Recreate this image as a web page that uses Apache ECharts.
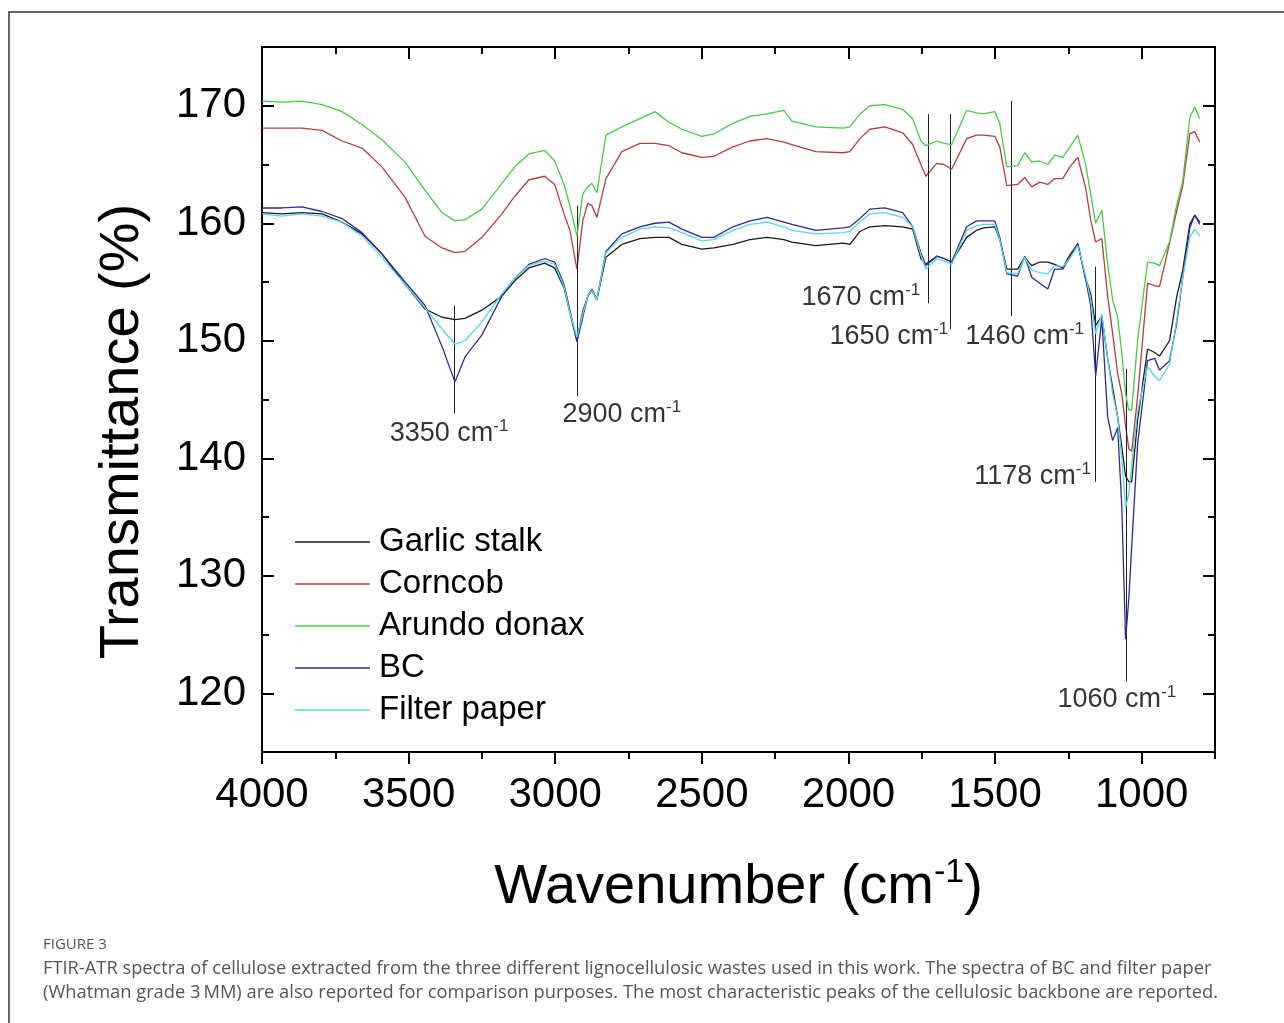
<!DOCTYPE html>
<html>
<head>
<meta charset="utf-8">
<script src="https://cdn.jsdelivr.net/npm/echarts@6/dist/echarts.min.js"></script>
<style>
  html, body { margin: 0; padding: 0; background: #fff; }
  #chart { width: 1284px; height: 1023px; }
</style>
</head>
<body>
<div id="chart"></div>
<script>
// wavenumber grid (cm-1), shared by all five spectra
const wavenumber = [
  4000, 3932, 3864, 3795, 3727, 3659, 3591, 3512, 3444, 3386,
  3342, 3308, 3250, 3182, 3138, 3090, 3036, 3002, 2970, 2950,
  2926, 2906, 2889, 2875, 2858, 2827, 2773, 2711, 2660, 2612,
  2568, 2500, 2459, 2394, 2336, 2278, 2220, 2193, 2111, 2019,
  1995, 1961, 1927, 1876, 1815, 1781, 1753, 1736, 1699, 1675,
  1648, 1597, 1563, 1539, 1501, 1484, 1460, 1423, 1399, 1375,
  1348, 1320, 1297, 1269, 1245, 1218, 1191, 1174, 1157, 1136,
  1116, 1099, 1082, 1068, 1055, 1044, 1034, 1014, 980, 956,
  939, 905, 881, 860, 836, 819, 802
];

const garlicStalk = [
  160.9, 160.8, 160.9, 160.8, 160.1, 159.1, 157.4, 154.8, 152.7, 152.0,
  151.8, 151.9, 152.6, 153.8, 155.1, 156.2, 156.6, 156.2, 154.5, 152.4,
  150.0, 152.5, 153.8, 154.3, 153.5, 157.1, 158.2, 158.7, 158.8, 158.8,
  158.2, 157.8, 157.9, 158.2, 158.6, 158.8, 158.6, 158.4, 158.1, 158.3,
  158.2, 159.3, 159.7, 159.8, 159.7, 159.5, 157.0, 156.5, 157.2, 157.0,
  156.7, 158.8, 159.4, 159.6, 159.7, 158.6, 156.1, 156.1, 157.1, 156.4,
  156.7, 156.7, 156.5, 156.2, 157.3, 158.2, 155.3, 154.0, 151.3, 152.1,
  148.5, 146.0, 143.5, 141.0, 138.5, 138.0, 138.0, 143.2, 149.3, 149.0,
  148.7, 150.0, 153.7, 156.0, 159.9, 160.7, 160.1
];

const corncob = [
  168.1, 168.1, 168.1, 167.9, 167.0, 166.4, 164.8, 162.2, 158.9, 157.9,
  157.5, 157.6, 158.8, 160.8, 162.3, 163.7, 164.0, 163.3, 160.8, 159.4,
  156.1, 160.2, 161.7, 161.5, 160.5, 163.8, 166.1, 166.8, 166.8, 166.6,
  166.0, 165.6, 165.7, 166.5, 167.0, 167.2, 166.9, 166.7, 166.1, 166.0,
  166.1, 167.2, 168.0, 168.2, 167.7, 166.7, 165.0, 164.0, 165.1, 165.0,
  164.6, 167.2, 167.5, 167.5, 167.4, 166.5, 163.2, 163.3, 163.9, 163.1,
  163.5, 163.3, 163.8, 163.8, 164.8, 165.6, 163.0, 160.3, 158.4, 158.7,
  153.8, 150.6, 147.2, 145.5, 142.8, 140.8, 140.6, 145.2, 154.9, 154.7,
  154.6, 158.3, 161.0, 163.2, 167.6, 167.8, 166.9
];

const arundoDonax = [
  170.4, 170.3, 170.4, 170.1, 169.5, 168.4, 167.1, 165.2, 162.8, 160.9,
  160.2, 160.3, 161.2, 163.4, 164.8, 165.9, 166.2, 165.3, 163.3, 161.5,
  158.9, 162.5, 163.1, 163.4, 162.6, 167.5, 168.2, 168.9, 169.5, 168.6,
  168.0, 167.4, 167.6, 168.5, 169.1, 169.3, 169.6, 168.7, 168.2, 168.1,
  168.2, 169.3, 170.0, 170.1, 169.7, 168.9, 167.0, 166.6, 167.0, 166.8,
  166.7, 169.6, 169.4, 169.3, 169.5, 168.5, 164.8, 164.9, 166.0, 165.2,
  165.3, 165.0, 165.8, 165.6, 166.5, 167.5, 165.0, 162.5, 160.0, 161.1,
  156.5, 153.5, 152.0, 149.0, 145.5, 144.1, 144.1, 150.0, 156.7, 156.6,
  156.4, 158.4, 161.5, 163.6, 169.0, 169.9, 168.9
];

const bc = [
  161.3, 161.3, 161.4, 161.0, 160.4, 159.2, 157.4, 155.0, 153.0, 149.5,
  146.5, 148.6, 150.5, 153.8, 155.3, 156.5, 157.0, 156.7, 154.8, 152.6,
  149.9, 152.0, 153.8, 154.4, 153.5, 157.6, 159.1, 159.7, 160.0, 160.1,
  159.5, 158.8, 158.8, 159.7, 160.2, 160.5, 160.1, 159.9, 159.4, 159.6,
  159.7, 160.4, 161.2, 161.3, 160.9, 159.7, 157.5, 156.4, 157.2, 157.0,
  156.7, 159.7, 160.2, 160.2, 160.2, 158.8, 155.7, 155.5, 157.2, 155.4,
  154.9, 154.4, 156.1, 156.1, 157.1, 158.3, 155.2, 153.0, 147.0, 151.9,
  143.5, 141.5, 142.6, 136.0, 124.6, 128.0, 132.5, 141.2, 148.3, 148.5,
  147.5, 148.3, 151.4, 155.4, 159.6, 160.7, 159.9
];

const filterPaper = [
  160.8, 160.6, 160.8, 160.6, 160.1, 158.9, 157.1, 154.8, 152.8, 151.0,
  149.7, 150.0, 151.6, 154.0, 155.3, 156.4, 156.8, 156.5, 154.6, 152.4,
  150.3, 152.3, 153.8, 154.3, 153.5, 157.5, 158.8, 159.5, 159.7, 159.6,
  159.2, 158.5, 158.6, 159.4, 159.9, 160.1, 159.7, 159.4, 159.1, 159.2,
  159.3, 160.1, 160.8, 160.9, 160.5, 159.7, 157.3, 156.1, 157.0, 156.8,
  156.5, 159.4, 159.8, 159.9, 159.9, 158.6, 155.8, 155.7, 157.1, 156.0,
  155.8, 155.7, 156.4, 156.3, 157.0, 158.1, 155.5, 153.5, 150.6, 152.3,
  148.5, 145.5, 143.5, 140.0, 135.8, 137.0, 139.5, 144.0, 147.8, 147.0,
  146.6, 148.0, 151.7, 155.4, 158.8, 159.5, 158.9
];

const seriesNames = ['Garlic stalk', 'Corncob', 'Arundo donax', 'BC', 'Filter paper'];
const seriesValues = [garlicStalk, corncob, arundoDonax, bc, filterPaper];
const seriesColors = ['#1a1a1a', '#b83c3c', '#44cc44', '#2b2b9c', '#55d8e2'];

// peak marker lines: [wavenumber, top, bottom]
const peakLines = [
  [3345, 153.0, 143.8],
  [2926, 161.5, 145.3],
  [1728, 169.3, 153.2],
  [1653, 169.3, 151.0],
  [1444, 170.4, 152.1],
  [1158, 156.3, 138.0],
  [1052, 147.6, 121.0]
];

// peak labels: [wavenumber, transmittance, text]
const peakLabels = [
  [3362, 142.1, '3350'],
  [2773, 143.7, '2900'],
  [1958, 153.7, '1670'],
  [1862, 150.4, '1650'],
  [1399, 150.4, '1460'],
  [1372, 138.45, '1178'],
  [1085, 119.5, '1060']
];

const xLabelTicks = [4000, 3500, 3000, 2500, 2000, 1500, 1000];
const yLabelTicks = [120, 130, 140, 150, 160, 170];

const font = 'Liberation Sans, Arial, sans-serif';
const chart = echarts.init(document.getElementById('chart'));

const frame = { show: true, lineStyle: { color: '#000', width: 2 } };
const tickStyle = { color: '#000', width: 2 };

function xAxisPart(position, long, extra) {
  return Object.assign({
    type: 'value',
    position: position,
    min: 750,
    max: 4000,
    inverse: true,
    interval: 250,
    axisLine: long ? { show: false } : frame,
    axisTick: long
      ? { show: true, customValues: xLabelTicks, length: 12, inside: position === 'top', lineStyle: tickStyle }
      : { show: true, length: 7, inside: position === 'top', lineStyle: tickStyle },
    axisLabel: { show: false },
    splitLine: { show: false }
  }, extra || {});
}

function yAxisPart(position, long, extra) {
  return Object.assign({
    type: 'value',
    position: position,
    min: 115,
    max: 175,
    interval: 5,
    axisLine: long ? { show: false } : frame,
    axisTick: long
      ? { show: true, customValues: yLabelTicks, length: 12, inside: true, lineStyle: tickStyle }
      : { show: true, length: 7, inside: true, lineStyle: tickStyle },
    axisLabel: { show: false },
    splitLine: { show: false }
  }, extra || {});
}

const lineSeries = seriesNames.map((name, k) => ({
  name: name,
  type: 'line',
  xAxisIndex: 0,
  yAxisIndex: 0,
  symbol: 'none',
  z: 3 + k,
  color: seriesColors[k],
  lineStyle: { color: seriesColors[k], width: 1.3 },
  data: wavenumber.map((w, i) => [w, seriesValues[k][i]])
}));

const option = {
  animation: false,
  backgroundColor: '#fff',
  grid: { left: 262, right: 69, top: 47, bottom: 271 },
  xAxis: [
    xAxisPart('bottom', false, {
      axisLabel: {
        show: true,
        customValues: xLabelTicks,
        formatter: v => String(v),
        fontSize: 42,
        fontFamily: font,
        color: '#000',
        margin: 22
      },
      name: '{a|Wavenumber (cm}{s|-1}{a|)}',
      nameLocation: 'middle',
      nameGap: 104,
      nameTextStyle: {
        rich: {
          a: { fontSize: 56, fontFamily: font, color: '#000' },
          s: { fontSize: 34, fontFamily: font, color: '#000', verticalAlign: 'top', padding: [0, 0, 30, 0] }
        }
      }
    }),
    xAxisPart('bottom', true),
    xAxisPart('top', false),
    xAxisPart('top', true)
  ],
  yAxis: [
    yAxisPart('left', false, {
      axisLabel: {
        show: true,
        customValues: yLabelTicks,
        formatter: v => String(v),
        fontSize: 42,
        fontFamily: font,
        color: '#000',
        margin: 16
      },
      name: 'Transmittance (%)',
      nameLocation: 'middle',
      nameGap: 111,
      nameTextStyle: { fontSize: 56, fontFamily: font, color: '#000', padding: [0, 64, 0, 0] }
    }),
    yAxisPart('left', true),
    yAxisPart('right', false),
    yAxisPart('right', true)
  ],
  legend: {
    data: seriesNames,
    orient: 'vertical',
    left: 290,
    top: 516,
    icon: 'rect',
    itemWidth: 75,
    itemHeight: 1.5,
    itemGap: 0,
    selectedMode: false,
    textStyle: { fontSize: 33, lineHeight: 42, fontFamily: font, color: '#000', padding: [0, 0, 0, 4] }
  },
  series: lineSeries.concat([{
    name: 'peaks',
    type: 'scatter',
    xAxisIndex: 0,
    yAxisIndex: 0,
    symbolSize: 0,
    silent: true,
    z: 10,
    data: peakLabels,
    label: {
      show: true,
      position: 'inside',
      color: '#000',
      textBorderWidth: 0,
      formatter: p => '{a|' + p.data[2] + ' cm}{s|-1}',
      rich: {
        a: { fontSize: 27, fontFamily: font, color: '#000', textBorderWidth: 0 },
        s: { fontSize: 17, fontFamily: font, color: '#000', textBorderWidth: 0, verticalAlign: 'top', padding: [0, 0, 14, 0] }
      }
    },
    markLine: {
      silent: true,
      symbol: ['none', 'none'],
      label: { show: false },
      lineStyle: { color: '#222', width: 1, type: 'solid' },
      data: peakLines.map(l => [{ coord: [l[0], l[1]] }, { coord: [l[0], l[2]] }])
    }
  }]),
  graphic: [
    {
      type: 'rect',
      silent: true,
      shape: { x: 9, y: 12, width: 1400, height: 1100 },
      style: { fill: 'none', stroke: '#333', lineWidth: 1.5 }
    },
    {
      type: 'text',
      left: 43,
      top: 937,
      style: { text: 'FIGURE 3', font: '15px "Open Sans", sans-serif', fill: '#555' }
    },
    {
      type: 'text',
      left: 43,
      top: 957,
      style: {
        text: 'FTIR-ATR spectra of cellulose extracted from the three different lignocellulosic wastes used in this work. The spectra of BC and filter paper\n(Whatman grade 3\u2009MM) are also reported for comparison purposes. The most characteristic peaks of the cellulosic backbone are reported.',
        font: '18.3px "Open Sans", sans-serif',
        lineHeight: 24,
        fill: '#555'
      }
    }
  ]
};

chart.setOption(option);
</script>
</body>
</html>
